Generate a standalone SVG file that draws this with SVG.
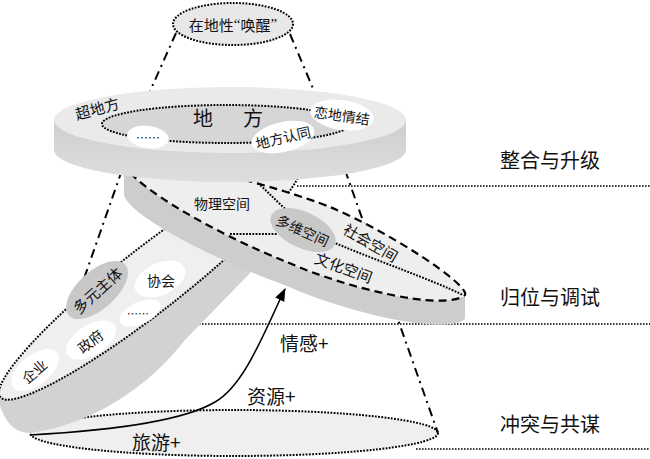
<svg xmlns="http://www.w3.org/2000/svg" width="650" height="459" viewBox="0 0 650 459">
<defs>
<style>
text{font-family:"Noto Sans CJK SC","Noto Sans",sans-serif;fill:#111}
.c{text-anchor:middle;dominant-baseline:central}
.q{font-family:"Liberation Serif",serif}
.dot{stroke:#000;stroke-width:2;stroke-dasharray:1.8 1.4}
.hline{fill:none;stroke:#000;stroke-width:1.6;stroke-dasharray:1.6 1.4}
.dd{fill:none;stroke:#000;stroke-width:2;stroke-dasharray:9 5 2 5}
.dash{stroke:#000;stroke-width:2.2;stroke-dasharray:8 5}
.w{fill:#fff}
.g{fill:#c8c8c8}
.lvl{font-size:20px}
.t14{font-size:14px}
.t15{font-size:15px}
.t19{font-size:19px}
</style>
<linearGradient id="bigSide" x1="0" y1="0" x2="0" y2="1">
<stop offset="0" stop-color="#cecece"/><stop offset="1" stop-color="#dedede"/>
</linearGradient>
<marker id="ah" markerUnits="userSpaceOnUse" markerWidth="14" markerHeight="12" refX="12" refY="5" orient="auto">
<path d="M0,0 L13,5 L0,10 Z" fill="#000"/>
</marker>
</defs>
<rect width="650" height="459" fill="#fff"/>

<g id="levels">
<path class="hline" d="M297,186 H650"/>
<path class="hline" d="M199,324 H650"/>
<path class="hline" d="M416,449 H650"/>
<text class="lvl" x="550" y="168" text-anchor="middle">整合与升级</text>
<text class="lvl" x="550" y="305" text-anchor="middle">归位与调试</text>
<text class="lvl" x="550" y="432" text-anchor="middle">冲突与共谋</text>
</g>

<g id="base">
<ellipse class="dot" cx="234" cy="433" rx="204" ry="23" fill="#efefef"/>
</g>

<g id="cone">
<path class="dd" d="M176,33 L147,98"/>
<path class="dd" d="M290,34 L317,98"/>
<path class="dd" d="M122,170 L30,433"/>
<path class="dd" d="M345,170 L438,433"/>
</g>

<g id="actors-disk">
<path d="M0,393 L0,406 C6,424 16,433 30,433 C95,424 150,385 185,340 L255,268 L262,250 L230,225 Z" fill="#d2d2d2"/>
<ellipse class="dot" cx="150" cy="280" rx="190" ry="32" transform="rotate(-38 150 280)" fill="#efefef"/>
<ellipse class="g" cx="97" cy="290" rx="38" ry="19" transform="rotate(-42 97 290)"/>
<text class="c t15" transform="translate(97 290) rotate(-42)">多元主体</text>
<ellipse class="w" cx="160" cy="279" rx="27" ry="16" transform="rotate(-25 160 279)"/>
<text class="c t14" x="161" y="280">协会</text>
<ellipse class="w" cx="140" cy="313" rx="22" ry="11" transform="rotate(-25 140 313)"/>
<text class="c" font-size="11" x="138" y="313">……</text>
<ellipse class="w" cx="91" cy="340" rx="28" ry="15" transform="rotate(-32 91 340)"/>
<text class="c t14" transform="translate(90 341) rotate(-38)">政府</text>
<ellipse class="w" cx="35" cy="370" rx="28" ry="15" transform="rotate(-38 35 370)"/>
<text class="c t14" transform="translate(34 371) rotate(-40)">企业</text>
</g>

<g id="space-disk">
<path d="M124,162 L124,195 C130,218 225,264 287,286 C345,312 445,336 465,319 L465,295 C445,312 345,288 287,262 C225,238 128,185 124,162 Z" fill="#cdcdcd"/>
<path class="dash" d="M124,162 C128,185 225,238 287,262 C345,288 445,312 465,295 C470,285 390,232 330,207 C280,187 150,152 124,162 Z" fill="#eeeeee"/>
<path class="dot" fill="none" d="M258,183 C285,208 305,232 335,243 C380,262 430,279 463,295"/>
<path class="dot" fill="none" d="M230,234 H278"/>
<ellipse class="g" cx="303" cy="230" rx="35" ry="18" transform="rotate(25 303 230)"/>
<text class="c t14" transform="translate(303 230) rotate(24)">多维空间</text>
<text class="c t14" x="222" y="203">物理空间</text>
<text class="c t15" transform="translate(371 242) rotate(30)">社会空间</text>
<text class="c t15" transform="translate(344 267) rotate(20)">文化空间</text>
</g>

<g id="place-disk">
<path d="M54,120 V150 A176,32 0 0 0 406,150 V120 Z" fill="url(#bigSide)"/>
<ellipse cx="230" cy="120" rx="176" ry="33" fill="#eaeaea"/>
<ellipse class="dot" cx="226" cy="124" rx="124" ry="19" fill="#d6d6d6"/>
<text font-size="20" x="193" y="126">地<tspan dx="30">方</tspan></text>
<text class="c t15" transform="translate(97 108) rotate(-15)">超地方</text>
<ellipse class="w" cx="148" cy="137" rx="21" ry="11" transform="rotate(8 148 137)"/>
<text class="c" font-size="12" x="148" y="137">……</text>
<ellipse class="w" cx="342" cy="115" rx="32" ry="15" transform="rotate(8 342 115)"/>
<text class="c t14" transform="translate(342 115) rotate(8)">恋地情结</text>
<ellipse class="w" cx="283" cy="137" rx="32" ry="15" transform="rotate(-13 283 137)"/>
<text class="c t14" transform="translate(283 137) rotate(-13)">地方认同</text>
</g>

<g id="awakening">
<ellipse class="dot" cx="233" cy="24" rx="60" ry="21" fill="#e8e8e8"/>
<text class="c t15" x="233" y="24">在地性<tspan class="q">“</tspan>唤醒<tspan class="q">”</tspan></text>
</g>

<g id="connectors">
<path d="M30,435 C120,430 185,420 215,402 C245,385 265,330 285,289" fill="none" stroke="#000" stroke-width="1.6" marker-end="url(#ah)"/>
<text class="t19" x="280" y="351">情感+</text>
<text class="t19" x="247" y="404">资源+</text>
<text class="t19" x="132" y="450">旅游+</text>
</g>
</svg>
